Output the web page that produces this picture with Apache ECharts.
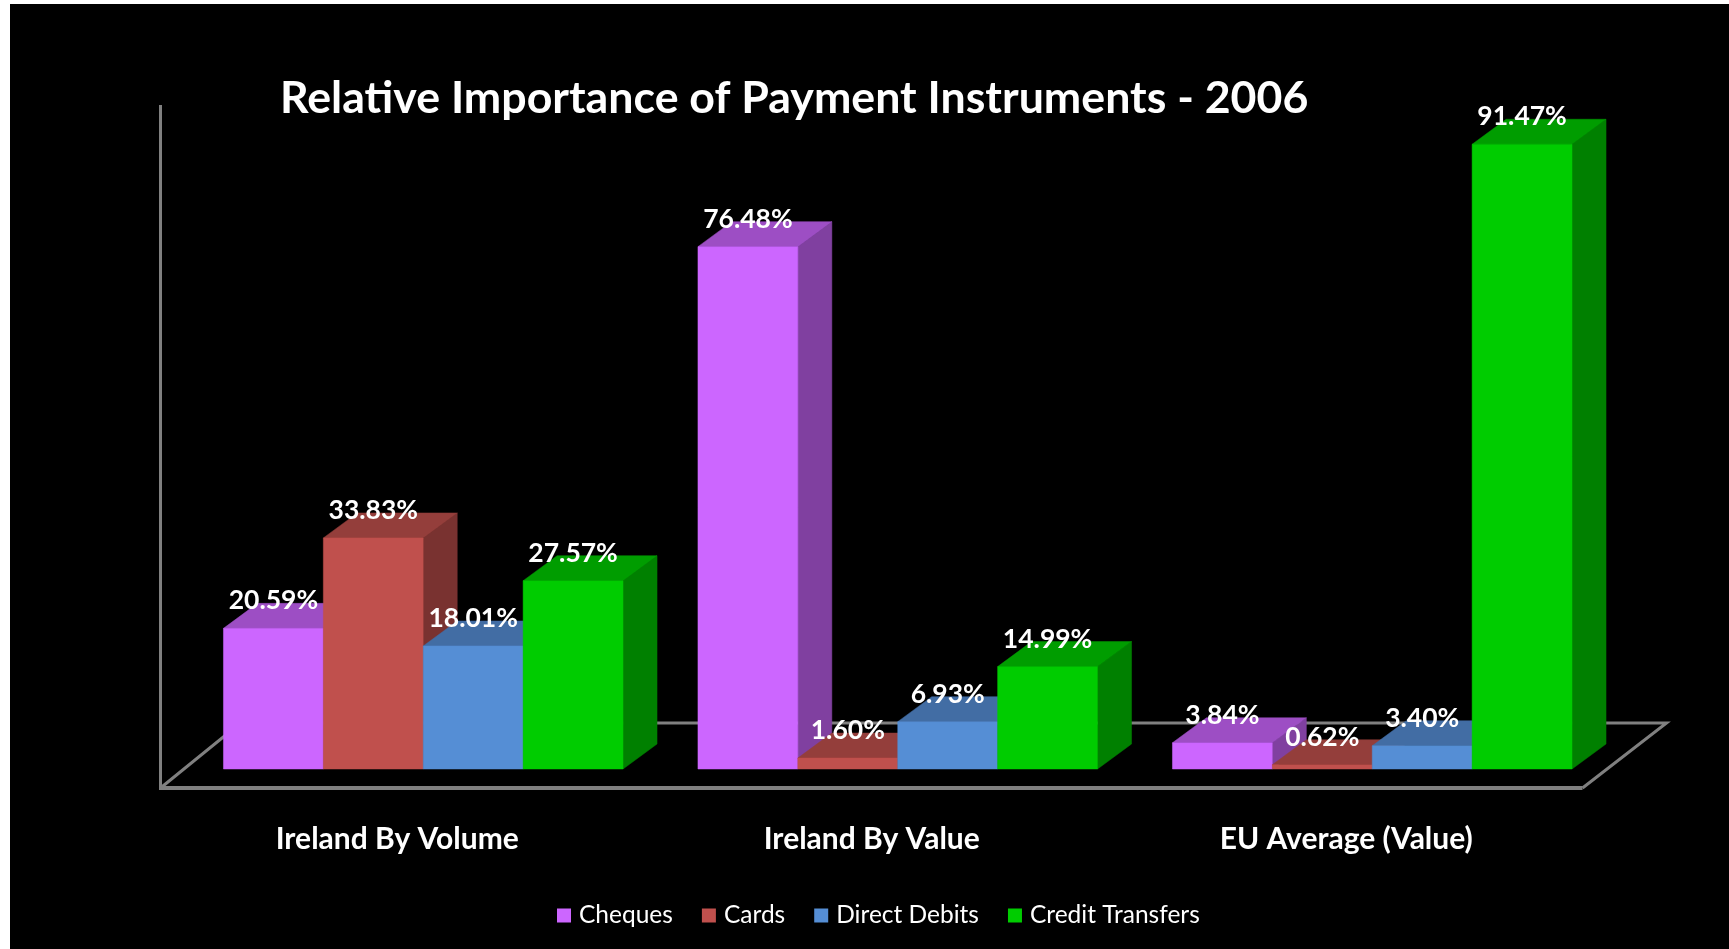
<!DOCTYPE html>
<html>
<head>
<meta charset="utf-8">
<title>Relative Importance of Payment Instruments - 2006</title>
<script src="https://cdn.jsdelivr.net/npm/echarts@6/dist/echarts.min.js"></script>
<style>
html, body { margin: 0; padding: 0; background: #fff; }
#chart { width: 1729px; height: 949px; }
</style>
</head>
<body>
<div id="chart"></div>
<script>
const categories = ['Ireland By Volume', 'Ireland By Value', 'EU Average (Value)'];
const cheques = [20.59, 76.48, 3.84];
const cards = [33.83, 1.60, 0.62];
const directDebits = [18.01, 6.93, 3.40];
const creditTransfers = [27.57, 14.99, 91.47];

const instruments = [
  { name: 'Cheques', values: cheques, front: '#CC66FF', top: '#9D4EC4', side: '#8040A0' },
  { name: 'Cards', values: cards, front: '#C0504D', top: '#943E3B', side: '#793230' },
  { name: 'Direct Debits', values: directDebits, front: '#558ED5', top: '#426DA4', side: '#365986' },
  { name: 'Credit Transfers', values: creditTransfers, front: '#00CC00', top: '#009D00', side: '#008000' }
];

const FONT = 'Lato, "Open Sans", sans-serif';
const DEPTH_X = 34;
const DEPTH_Y = 25;
const BAR_SHARE = 100 / 475;
const FLOOR = { frontX: 25.5, frontY: 19, backY: 46, wallTop: 105 };
const GRID = { left: 186, top: 86, width: 1423.5, height: 683 };

function barBox(api, slot) {
  const band = api.size([1, 0])[0];
  const width = band * BAR_SHARE;
  const base = api.coord([api.value(0), 0]);
  const top = api.coord([api.value(0), api.value(1)]);
  const x = base[0] + (slot - 2) * width;
  return { x, width, base: base[1], top: top[1] };
}

function poly(points, fill) {
  return { type: 'polygon', shape: { points }, style: { fill, stroke: fill, lineWidth: 0.5 } };
}

// Front, top and right faces of one extruded bar
function renderBar(slot, item) {
  return function (params, api) {
    const b = barBox(api, slot);
    const r = b.x + b.width;
    return {
      type: 'group',
      children: [
        poly([[r, b.base], [r + DEPTH_X, b.base - DEPTH_Y], [r + DEPTH_X, b.top - DEPTH_Y], [r, b.top]], item.side),
        poly([[b.x, b.top], [b.x + DEPTH_X, b.top - DEPTH_Y], [r + DEPTH_X, b.top - DEPTH_Y], [r, b.top]], item.top),
        poly([[b.x, b.base], [b.x, b.top], [r, b.top], [r, b.base]], item.front)
      ]
    };
  };
}

// Value caption sitting above the bar's front face
function renderValue(slot) {
  return function (params, api) {
    const b = barBox(api, slot);
    return {
      type: 'text',
      style: {
        x: b.x + b.width / 2,
        y: b.top - 27.5,
        text: api.value(1).toFixed(2) + '%',
        fill: '#fff',
        font: 'bold 26.5px ' + FONT,
        textAlign: 'center',
        textVerticalAlign: 'middle'
      }
    };
  };
}

// Floor outline and the vertical wall edge, placed relative to the plot area
function renderFrame(params, api) {
  const c = params.coordSys;
  const base = c.y + c.height;
  const x0 = c.x - FLOOR.frontX, x1 = c.x + c.width - 27;
  const y0 = base + FLOOR.frontY, y1 = base - FLOOR.backY;
  const line = (points, lineWidth) => ({
    type: 'polyline',
    shape: { points },
    style: { stroke: '#808080', lineWidth, fill: null }
  });
  return {
    type: 'group',
    silent: true,
    children: [
      line([[x0, FLOOR.wallTop], [x0, y0]], 3),
      line([[x0, y0], [x0 + 80, y1], [x1 + 84, y1], [x1, y0]], 3),
      line([[x0 - 1.5, y0], [x1, y0]], 4)
    ]
  };
}

const dataFor = (values) => values.map((v, i) => [i, v]);

const series = [{
  type: 'custom',
  name: 'frame',
  coordinateSystem: 'cartesian2d',
  renderItem: renderFrame,
  data: [[0, 0]],
  z: 1,
  silent: true
}];

instruments.forEach((item, slot) => {
  series.push({
    type: 'custom',
    name: item.name,
    coordinateSystem: 'cartesian2d',
    renderItem: renderBar(slot, item),
    itemStyle: { color: item.front },
    encode: { x: 0, y: 1 },
    data: dataFor(item.values),
    z: 2
  });
});

instruments.forEach((item, slot) => {
  series.push({
    type: 'custom',
    name: item.name,
    coordinateSystem: 'cartesian2d',
    renderItem: renderValue(slot),
    itemStyle: { color: item.front },
    encode: { x: 0, y: 1 },
    data: dataFor(item.values),
    z: 5
  });
});

const chart = echarts.init(document.getElementById('chart'), null, { renderer: 'canvas' });
chart.setOption({
  backgroundColor: '#fff',
  animation: false,
  graphic: [{
    type: 'rect',
    z: -10,
    silent: true,
    shape: { x: 10, y: 4, width: 1719, height: 945 },
    style: { fill: '#000' }
  }],
  title: {
    text: 'Relative Importance of Payment Instruments - 2006',
    left: 275,
    top: 71,
    textStyle: { color: '#fff', fontFamily: FONT, fontWeight: 'bold', fontSize: 44.7 }
  },
  legend: {
    data: instruments.map((d) => d.name),
    left: 552,
    top: 898,
    icon: 'rect',
    itemWidth: 14,
    itemHeight: 14,
    itemGap: 29,
    textStyle: { color: '#fff', fontFamily: FONT, fontSize: 24.5, padding: [0, 0, 0, 3] },
    selectedMode: false
  },
  grid: GRID,
  xAxis: {
    type: 'category',
    data: categories,
    axisLine: { show: false },
    axisTick: { show: false },
    axisLabel: {
      color: '#fff',
      fontFamily: FONT,
      fontWeight: 'bold',
      fontSize: 30,
      margin: 55,
      padding: [0, 52, 0, 0]
    }
  },
  yAxis: {
    type: 'value',
    min: 0,
    max: 100,
    show: false,
    splitLine: { show: false }
  },
  series
});
</script>
</body>
</html>
